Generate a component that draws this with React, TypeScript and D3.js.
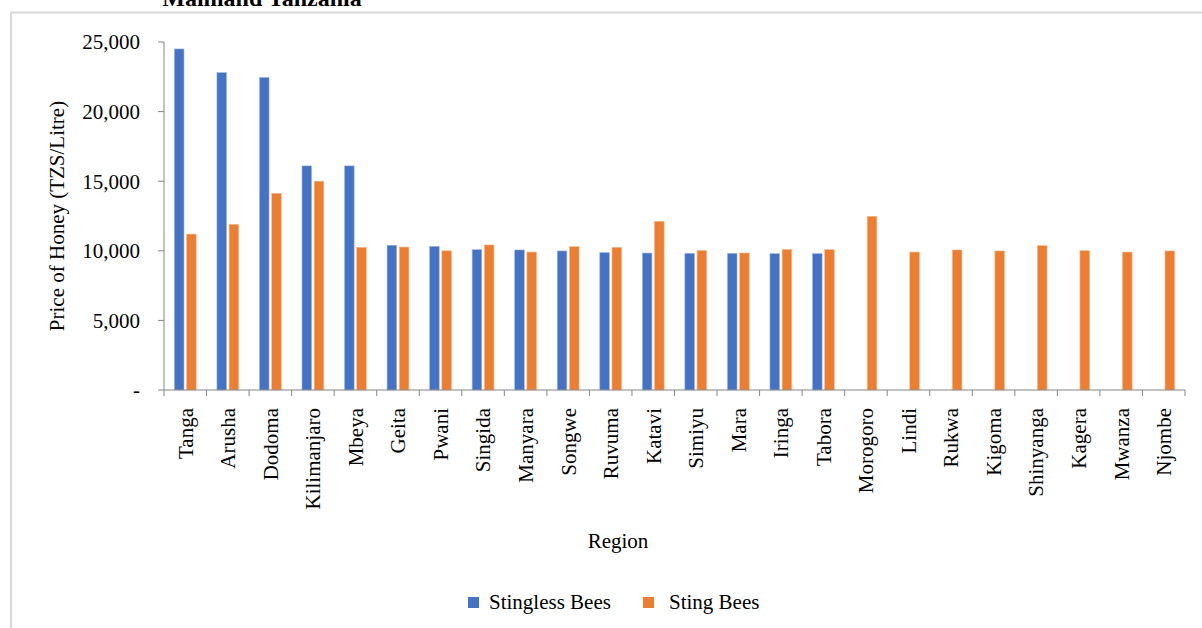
import React from "react";
import * as d3 from "d3";

const regions = ["Tanga","Arusha","Dodoma","Kilimanjaro","Mbeya","Geita","Pwani","Singida","Manyara","Songwe","Ruvuma","Katavi","Simiyu","Mara","Iringa","Tabora","Morogoro","Lindi","Rukwa","Kigoma","Shinyanga","Kagera","Mwanza","Njombe"];
const stingless: (number | null)[] = [24500,22800,22450,16100,16100,10400,10320,10080,10060,9990,9870,9840,9820,9820,9800,9800,null,null,null,null,null,null,null,null];
const sting: number[] = [11200,11900,14130,15000,10250,10270,10000,10420,9910,10300,10250,12120,10030,9840,10100,10080,12480,9910,10060,9990,10370,10010,9910,9990];
const yTicks = [0,5000,10000,15000,20000,25000];
const seriesNames = ["Stingless Bees","Sting Bees"];
const colors = ["#4472C4","#ED7D31"];

const W = 1202, H = 628;
const left = 164, right = 1185, top = 42, bottom = 390;
const FONT = "'Liberation Serif', 'Times New Roman', serif";
const FS = 21;

export default function App() {
  const x = d3.scaleBand<string>().domain(regions).range([left, right]).paddingInner(0).paddingOuter(0);
  const y = d3.scaleLinear().domain([0, 25000]).range([bottom, top]);
  const bw = 9.6;
  const gap = 2.6;
  const fmt = d3.format(",");
  return (
    <svg width={W} height={H} style={{ position: "absolute", left: 0, top: 0, background: "#fff" }} fontFamily={FONT}>
      <rect x={0} y={0} width={W} height={H} fill="#fff" />
      <rect x={11} y={12.5} width={W + 20} height={H + 20} fill="none" stroke="#d9d9d9" strokeWidth={2} />
      <text x={262} y={6} textAnchor="middle" fontSize={24} fontWeight="bold" fill="#000">Mainland Tanzania</text>
      {/* y axis */}
      <line x1={left} x2={left} y1={top} y2={bottom} stroke="#868686" strokeWidth={1} />
      {yTicks.map((t) => (
        <g key={t}>
          <line x1={left - 6} x2={left} y1={y(t)} y2={y(t)} stroke="#868686" />
          <text x={140} y={y(t)} dy="0.35em" textAnchor="end" fontSize={FS} fill="#000">{t === 0 ? "-" : fmt(t)}</text>
        </g>
      ))}
      <text transform={`translate(64,216) rotate(-90)`} textAnchor="middle" fontSize={FS} fill="#000">Price of Honey (TZS/Litre)</text>
      {/* bars */}
      {regions.map((r, i) => {
        const cx = (x(r) as number) + x.bandwidth() / 2;
        const s1 = stingless[i];
        const s2 = sting[i];
        return (
          <g key={r}>
            {s1 != null && (
              <rect x={cx - gap / 2 - bw} y={y(s1)} width={bw} height={bottom - y(s1)} fill={colors[0]} stroke="#9fb6e0" strokeWidth={0.6} />
            )}
            <rect x={cx + gap / 2} y={y(s2)} width={bw} height={bottom - y(s2)} fill={colors[1]} stroke="#f4b98e" strokeWidth={0.6} />
          </g>
        );
      })}
      {/* x axis */}
      <line x1={left} x2={right} y1={bottom} y2={bottom} stroke="#868686" strokeWidth={1.2} />
      {regions.map((r) => (
        <line key={"t" + r} x1={x(r) as number} x2={x(r) as number} y1={bottom} y2={bottom + 6} stroke="#868686" />
      ))}
      <line x1={right} x2={right} y1={bottom} y2={bottom + 6} stroke="#868686" />
      {regions.map((r) => {
        const cx = (x(r) as number) + x.bandwidth() / 2;
        return (
          <text key={"l" + r} transform={`translate(${cx},408) rotate(-90)`} textAnchor="end" dy="0.35em" fontSize={FS} fill="#000">{r}</text>
        );
      })}
      <text x={618} y={548} textAnchor="middle" fontSize={FS} fill="#000">Region</text>
      {/* legend */}
      <rect x={468} y={597} width={11} height={11} fill={colors[0]} />
      <text x={489} y={609} fontSize={FS} fill="#000">{seriesNames[0]}</text>
      <rect x={643} y={597} width={11} height={11} fill={colors[1]} />
      <text x={669} y={609} fontSize={FS} fill="#000">{seriesNames[1]}</text>
    </svg>
  );
}
